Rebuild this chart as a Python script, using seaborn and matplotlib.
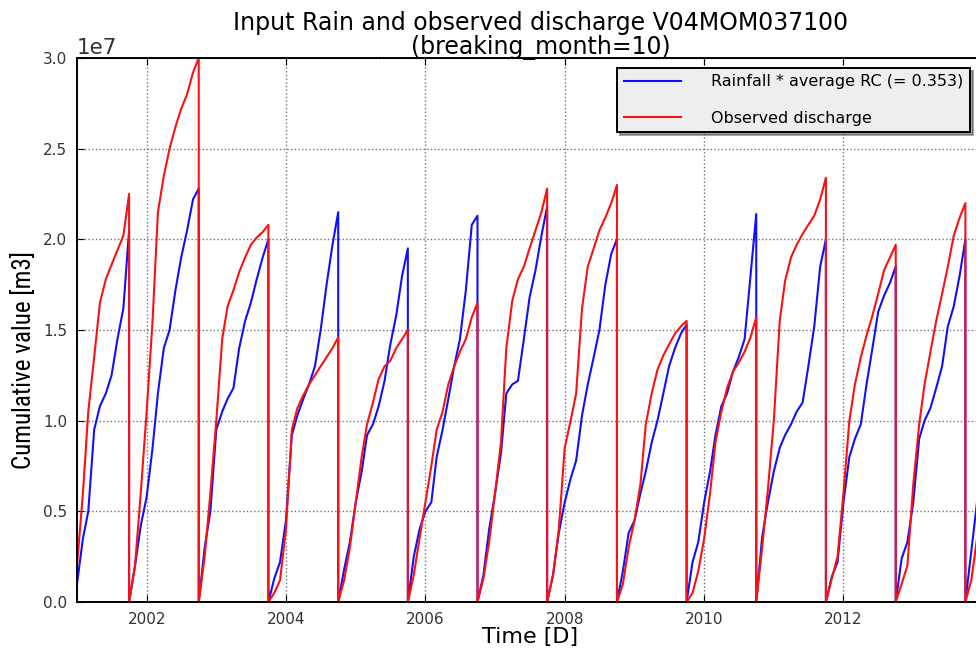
import numpy as np
import pandas as pd
import matplotlib
matplotlib.use("Agg")
import matplotlib.pyplot as plt
import matplotlib.dates as mdates
from matplotlib import font_manager
import seaborn as sns

# cumulative values in units of 1e7 m3, one value per first day of month
# water year runs Oct 1 -> Oct 1 (breaking_month=10), record starts 2001-01-01
SCALE = 1e7

rain_wy2001 = [0.10, 0.35, 0.50, 0.95, 1.08, 1.15, 1.25, 1.45, 1.62, 2.05]
flow_wy2001 = [0.20, 0.60, 1.05, 1.35, 1.65, 1.78, 1.86, 1.94, 2.02, 2.25]
rain_wy2002 = [0.00, 0.20, 0.42, 0.58, 0.85, 1.15, 1.40, 1.50, 1.72, 1.90, 2.05, 2.22, 2.28]
flow_wy2002 = [0.00, 0.20, 0.60, 1.05, 1.55, 2.15, 2.35, 2.50, 2.62, 2.72, 2.80, 2.92, 3.00]
rain_wy2003 = [0.00, 0.30, 0.50, 0.95, 1.05, 1.12, 1.18, 1.40, 1.55, 1.65, 1.78, 1.90, 2.00]
flow_wy2003 = [0.00, 0.25, 0.60, 1.00, 1.45, 1.63, 1.72, 1.82, 1.90, 1.97, 2.01, 2.04, 2.08]
rain_wy2004 = [0.00, 0.13, 0.22, 0.45, 0.92, 1.03, 1.12, 1.20, 1.30, 1.50, 1.75, 1.97, 2.15]
flow_wy2004 = [0.00, 0.05, 0.12, 0.40, 0.95, 1.07, 1.14, 1.20, 1.25, 1.30, 1.35, 1.40, 1.46]
rain_wy2005 = [0.00, 0.18, 0.33, 0.55, 0.72, 0.92, 0.98, 1.08, 1.22, 1.42, 1.58, 1.80, 1.95]
flow_wy2005 = [0.00, 0.12, 0.30, 0.55, 0.80, 0.98, 1.10, 1.23, 1.30, 1.33, 1.40, 1.45, 1.50]
rain_wy2006 = [0.00, 0.25, 0.40, 0.50, 0.55, 0.80, 0.95, 1.12, 1.30, 1.45, 1.72, 2.08, 2.13]
flow_wy2006 = [0.00, 0.15, 0.35, 0.55, 0.75, 0.95, 1.05, 1.20, 1.30, 1.38, 1.45, 1.57, 1.65]
rain_wy2007 = [0.00, 0.15, 0.40, 0.60, 0.82, 1.15, 1.20, 1.22, 1.45, 1.68, 1.83, 2.02, 2.18]
flow_wy2007 = [0.00, 0.13, 0.33, 0.60, 0.88, 1.40, 1.66, 1.78, 1.85, 1.95, 2.05, 2.15, 2.28]
rain_wy2008 = [0.00, 0.15, 0.38, 0.55, 0.68, 0.78, 1.03, 1.20, 1.35, 1.50, 1.75, 1.92, 2.00]
flow_wy2008 = [0.00, 0.15, 0.40, 0.85, 1.00, 1.15, 1.62, 1.85, 1.95, 2.05, 2.12, 2.20, 2.30]
rain_wy2009 = [0.00, 0.17, 0.38, 0.45, 0.60, 0.72, 0.88, 1.00, 1.15, 1.30, 1.40, 1.48, 1.53]
flow_wy2009 = [0.00, 0.10, 0.30, 0.45, 0.65, 0.98, 1.15, 1.28, 1.36, 1.42, 1.48, 1.52, 1.55]
rain_wy2010 = [0.00, 0.22, 0.33, 0.55, 0.72, 0.92, 1.08, 1.15, 1.27, 1.35, 1.45, 1.80, 2.14]
flow_wy2010 = [0.00, 0.05, 0.17, 0.35, 0.60, 0.88, 1.05, 1.18, 1.27, 1.32, 1.38, 1.46, 1.57]
rain_wy2011 = [0.00, 0.36, 0.55, 0.72, 0.85, 0.92, 0.98, 1.05, 1.10, 1.30, 1.52, 1.85, 2.00]
flow_wy2011 = [0.00, 0.30, 0.62, 1.00, 1.55, 1.77, 1.90, 1.97, 2.03, 2.08, 2.13, 2.22, 2.34]
rain_wy2012 = [0.00, 0.14, 0.22, 0.55, 0.80, 0.90, 0.98, 1.20, 1.40, 1.60, 1.69, 1.76, 1.85]
flow_wy2012 = [0.00, 0.13, 0.25, 0.60, 1.00, 1.20, 1.35, 1.47, 1.58, 1.70, 1.83, 1.90, 1.97]
rain_wy2013 = [0.00, 0.24, 0.33, 0.55, 0.90, 1.00, 1.07, 1.18, 1.30, 1.52, 1.63, 1.80, 2.00]
flow_wy2013 = [0.00, 0.10, 0.20, 0.65, 0.98, 1.20, 1.38, 1.55, 1.70, 1.85, 2.02, 2.12, 2.20]
rain_wy2014 = [0.00, 0.28, 0.55]
flow_wy2014 = [0.00, 0.12, 0.35]

segment_starts = ["2001-01-01", "2001-10-01", "2002-10-01", "2003-10-01", "2004-10-01",
                  "2005-10-01", "2006-10-01", "2007-10-01", "2008-10-01", "2009-10-01",
                  "2010-10-01", "2011-10-01", "2012-10-01", "2013-10-01"]
rain_segments = [rain_wy2001, rain_wy2002, rain_wy2003, rain_wy2004, rain_wy2005, rain_wy2006,
                 rain_wy2007, rain_wy2008, rain_wy2009, rain_wy2010, rain_wy2011, rain_wy2012,
                 rain_wy2013, rain_wy2014]
flow_segments = [flow_wy2001, flow_wy2002, flow_wy2003, flow_wy2004, flow_wy2005, flow_wy2006,
                 flow_wy2007, flow_wy2008, flow_wy2009, flow_wy2010, flow_wy2011, flow_wy2012,
                 flow_wy2013, flow_wy2014]


def build_frame(segments):
    parts = []
    for start, vals in zip(segment_starts, segments):
        dates = pd.date_range(start, periods=len(vals), freq="MS")
        parts.append(pd.DataFrame({"date": dates, "value": np.array(vals) * SCALE}))
    return pd.concat(parts, ignore_index=True)


def narrow_font():
    # ylabel in the original is a narrow sans; use one if it is installed
    fonts = font_manager.fontManager.ttflist
    names = {f.name for f in fonts}
    for cand in ["Liberation Sans Narrow", "Roboto Condensed", "Open Sans Condensed"]:
        if cand in names:
            return dict(family=cand, fontsize=18)
    if any(f.name == "DejaVu Sans" and f.stretch == "condensed" for f in fonts):
        return dict(family="DejaVu Sans", fontstretch="condensed", fontsize=16)
    return dict(family="DejaVu Sans", fontsize=14)


df_rain = build_frame(rain_segments)
df_flow = build_frame(flow_segments)

fig = plt.figure(figsize=(9.76, 6.5), dpi=100)
ax = fig.add_axes([0.0789, 0.0738, 0.928, 0.837])

sns.lineplot(data=df_rain, x="date", y="value", color="#1010ff", lw=1.5,
             estimator=None, sort=False, ax=ax, label="Rainfall * average RC (= 0.353)")
sns.lineplot(data=df_flow, x="date", y="value", color="#ff1010", lw=1.5,
             estimator=None, sort=False, ax=ax, label="Observed discharge")

ax.set_xlim(pd.Timestamp("2001-01-01"), pd.Timestamp("2013-12-31"))
ax.set_ylim(0, 3.0e7)
ax.set_yticks(np.arange(0, 3.01e7, 0.5e7))
ax.xaxis.set_major_locator(mdates.YearLocator(2))
ax.xaxis.set_major_formatter(mdates.DateFormatter("%Y"))

ax.grid(True, linestyle=":", color="0.45", linewidth=1.0)
ax.tick_params(direction="in", top=True, right=True, length=5, labelsize=11,
               labelcolor="0.2", pad=7)
ax.yaxis.get_offset_text().set_fontsize(15.5)
for sp in ax.spines.values():
    sp.set_linewidth(1.4)

ax.set_title("Input Rain and observed discharge V04MOM037100\n(breaking_month=10)",
             fontsize=17, linespacing=1.0, pad=3, x=0.512)
ax.set_xlabel("Time [D]", fontsize=16, labelpad=0)
ax.set_ylabel("Cumulative value [m3]", **narrow_font())
ax.yaxis.set_label_coords(-0.045, 0.445)

leg = ax.legend(loc="upper right", bbox_to_anchor=(0.9939, 0.8954),
                bbox_transform=fig.transFigure, borderaxespad=0, fontsize=11.5,
                handlelength=3.6, handletextpad=1.9, labelspacing=1.35,
                fancybox=False, shadow=True, framealpha=1)
leg.get_frame().set_facecolor("#eeeeee")
leg.get_frame().set_edgecolor("black")
leg.get_frame().set_linewidth(1.4)

fig.savefig("out.png", dpi=100)
